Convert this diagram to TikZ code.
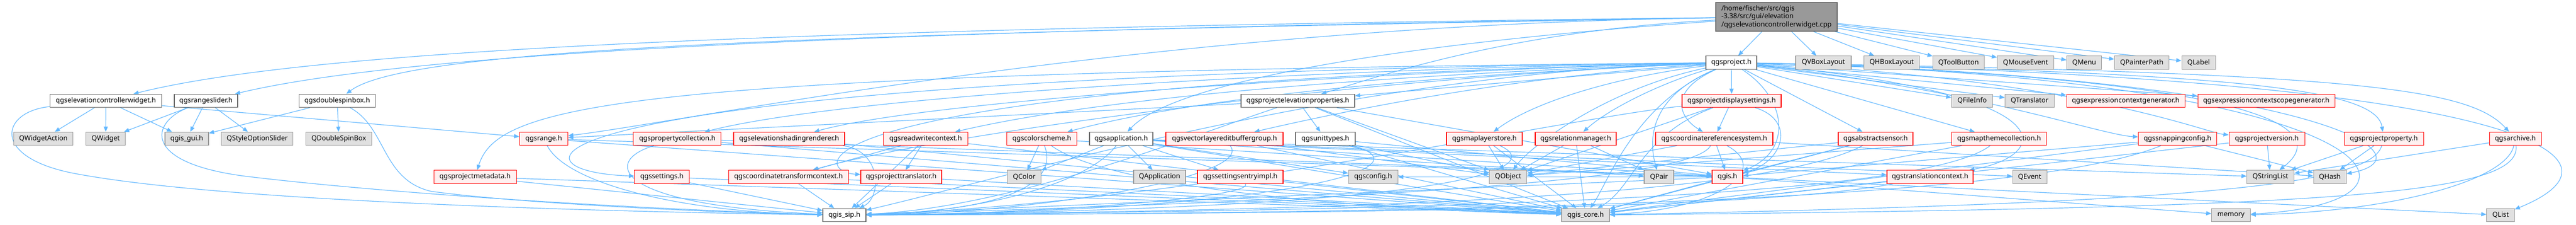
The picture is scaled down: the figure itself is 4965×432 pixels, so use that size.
\documentclass[tikz,border=0pt]{standalone}
\usepackage{fontspec}
\setmainfont{Noto Sans}
\usetikzlibrary{arrows.meta}
\definecolor{eline}{HTML}{63B8FF}
\definecolor{gfill}{HTML}{E0E0E0}
\definecolor{gline}{HTML}{999999}
\definecolor{rfill}{HTML}{FFF0F0}
\definecolor{rline}{HTML}{FF0000}
\definecolor{wline}{HTML}{666666}
\definecolor{tfill}{HTML}{999999}
\newcommand{\nodefont}{\fontsize{13.2}{15.5}\selectfont}
\pgfdeclarelayer{bg}
\pgfsetlayers{bg,main}
\tikzset{
  box/.style={draw, minimum height=25.5pt, inner xsep=4pt, inner ysep=0pt, font=\nodefont, line width=1.1pt},
  gbox/.style={box, fill=gfill, draw=gline},
  rbox/.style={box, fill=rfill, draw=rline},
  wbox/.style={box, fill=white, draw=wline},
  tbox/.style={box, fill=tfill, draw=wline, minimum height=55pt, align=left},
  e/.style={draw=eline, line width=1.2pt, -{Triangle[length=10pt,width=8pt]}}
}
\begin{document}
\begin{tikzpicture}[x=1pt,y=-1pt]
\useasboundingbox (0,0) rectangle (4965,432);
% row 0
\node[tbox, minimum width=234pt] (cpp) at (3424,32.5) {/home/fischer/src/qgis\\-3.38/src/gui/elevation\\/qgselevationcontrollerwidget.cpp};
% row 1
\node[wbox,minimum width=98pt] (proj) at (3337,120.5) {qgsproject.h};
\node[gbox,minimum width=107pt] (qvbox) at (3514.5,120.5) {QVBoxLayout};
\node[gbox,minimum width=107pt] (qhbox) at (3646,120.5) {QHBoxLayout};
\node[gbox,minimum width=99pt] (qtool) at (3775,120.5) {QToolButton};
\node[gbox,minimum width=109pt] (qmouse) at (3904,120.5) {QMouseEvent};
\node[gbox,minimum width=67pt] (qmenu) at (4017,120.5) {QMenu};
\node[gbox,minimum width=105pt] (qpath) at (4128,120.5) {QPainterPath};
\node[gbox,minimum width=65pt] (qlabel) at (4237.5,120.5) {QLabel};
% row 2
\node[wbox,minimum width=215pt] (elevw) at (204,194) {qgselevationcontrollerwidget.h};
\node[wbox,minimum width=122pt] (rslider) at (397,194) {qgsrangeslider.h};
\node[wbox,minimum width=147pt] (dspin) at (650,194) {qgsdoublespinbox.h};
\node[wbox,minimum width=219pt] (projelev) at (2501.5,194) {qgsprojectelevationproperties.h};
\node[rbox,minimum width=191pt] (projdisp) at (3337.5,194) {qgsprojectdisplaysettings.h};
\node[gbox,minimum width=79pt] (qfileinfo) at (3801,194) {QFileInfo};
\node[gbox,minimum width=95pt] (qtrans) at (3912,194) {QTranslator};
\node[rbox,minimum width=228pt] (exprgen) at (4097,194) {qgsexpressioncontextgenerator.h};
\node[rbox,minimum width=264pt] (scopegen) at (4368,194) {qgsexpressioncontextscopegenerator.h};
% row 3
\node[gbox,minimum width=114pt] (qwa) at (83.6,267) {QWidgetAction};
\node[gbox,minimum width=76pt] (qwidget) at (203.8,267) {QWidget};
\node[gbox,minimum width=84pt] (gisgui) at (360,267) {qgis\_gui.h};
\node[gbox,minimum width=138pt] (qsos) at (495.8,267) {QStyleOptionSlider};
\node[gbox,minimum width=127pt] (qdsb) at (653,267) {QDoubleSpinBox};
\node[rbox,minimum width=93pt] (range) at (1048,267) {qgsrange.h};
\node[rbox,minimum width=169pt] (propcoll) at (1305.4,267) {qgspropertycollection.h};
\node[rbox,minimum width=214pt] (elevshade) at (1521,267) {qgselevationshadingrenderer.h};
\node[rbox,minimum width=163pt] (rwctx) at (1784,267) {qgsreadwritecontext.h};
\node[rbox,minimum width=135pt] (colsch) at (2008,267) {qgscolorscheme.h};
\node[wbox,minimum width=122pt] (app) at (2161,267) {qgsapplication.h};
\node[rbox,minimum width=226pt] (vleb) at (2360,267) {qgsvectorlayereditbuffergroup.h};
\node[wbox,minimum width=115pt] (units) at (2554.5,267) {qgsunittypes.h};
\node[rbox,minimum width=146pt] (mls) at (2861,267) {qgsmaplayerstore.h};
\node[rbox,minimum width=156pt] (relmgr) at (3037,267) {qgsrelationmanager.h};
\node[rbox,minimum width=226pt] (crs) at (3304,267) {qgscoordinatereferencesystem.h};
\node[rbox,minimum width=144pt] (sensor) at (3615,267) {qgsabstractsensor.h};
\node[rbox,minimum width=183pt] (themes) at (3853,267) {qgsmapthemecollection.h};
\node[rbox,minimum width=151pt] (snap) at (4197,267) {qgssnappingconfig.h};
\node[rbox,minimum width=146pt] (pver) at (4369,267) {qgsprojectversion.h};
\node[rbox,minimum width=153pt] (pprop) at (4594.5,267) {qgsprojectproperty.h};
\node[rbox,minimum width=100pt] (archive) at (4848,267) {qgsarchive.h};
% row 4
\node[rbox,minimum width=159pt] (pmeta) at (915.6,340.5) {qgsprojectmetadata.h};
\node[rbox,minimum width=106pt] (settings) at (1275.8,340.5) {qgssettings.h};
\node[rbox,minimum width=231pt] (ctctx) at (1519.8,340.5) {qgscoordinatetransformcontext.h};
\node[rbox,minimum width=156pt] (ptrans) at (1737,340.5) {qgsprojecttranslator.h};
\node[gbox,minimum width=65pt] (qcolor) at (1974,340.5) {QColor};
\node[gbox,minimum width=100pt] (qapp) at (2235,340.5) {QApplication};
\node[rbox,minimum width=165pt] (sei) at (2390.5,340.5) {qgssettingsentryimpl.h};
\node[gbox,minimum width=95pt] (config) at (2646.6,340.5) {qgsconfig.h};
\node[gbox,minimum width=72pt] (qobject) at (2906.8,340.5) {QObject};
\node[gbox,minimum width=57pt] (qpair) at (3197.5,340.5) {QPair};
\node[rbox,minimum width=59pt] (qgis) at (3329.5,340.5) {qgis.h};
\node[rbox,minimum width=166pt] (tctx) at (3720,340.5) {qgstranslationcontext.h};
\node[gbox,minimum width=66pt] (qevent) at (3912,340.5) {QEvent};
\node[gbox,minimum width=90.5pt] (qsl) at (4376,340.5) {QStringList};
\node[gbox,minimum width=63pt] (qhash) at (4490.6,340.5) {QHash};
% row 5
\node[wbox,minimum width=83pt] (sip) at (1627.5,414) {qgis\_sip.h};
\node[gbox,minimum width=92pt] (core) at (3056,414) {qgis\_core.h};
\node[gbox,minimum width=74.5pt] (memory) at (4300,414) {memory};
\node[gbox,minimum width=53.5pt] (qlist) at (4819.6,414) {QList};

\begin{pgfonlayer}{bg}
% cpp
\draw[e] (cpp) .. controls (1500,55) and (600,95) .. (elevw);
\draw[e] (cpp) .. controls (1500,60) and (750,110) .. (rslider);
\draw[e] (cpp) .. controls (1500,65) and (780,95) .. (dspin);
\draw[e] (cpp) -- (proj);
\draw[e] (cpp) -- (qvbox);
\draw[e] (cpp) -- (qhbox);
\draw[e] (cpp) -- (qtool);
\draw[e] (cpp) -- (qmouse);
\draw[e] (cpp) -- (qmenu);
\draw[e] (cpp) -- (qpath);
\draw[e] (cpp) -- (qlabel);
\draw[e] (cpp) .. controls (2200,50) and (1350,230) .. (range);
\draw[e] (cpp) .. controls (2600,90) and (2250,170) .. (app);
\draw[e] (cpp) .. controls (2900,60) and (2650,150) .. (projelev);
% elevw
\draw[e] (elevw) -- (qwa);
\draw[e] (elevw) -- (qwidget);
\draw[e] (elevw) -- (gisgui);
\draw[e] (elevw) -- (range);
\draw[e] (elevw) .. controls (0,215) and (-20,305) .. (150,335) .. controls (450,390) and (1200,408) .. (sip);
% rslider
\draw[e] (rslider) -- (qwidget);
\draw[e] (rslider) -- (gisgui);
\draw[e] (rslider) -- (qsos);
\draw[e] (rslider) .. controls (290,235) and (270,315) .. (480,340) .. controls (800,378) and (1300,405) .. (sip);
% dspin
\draw[e] (dspin) -- (gisgui);
\draw[e] (dspin) -- (qdsb);
\draw[e] (dspin) .. controls (745,245) and (735,345) .. (830,368) .. controls (1000,392) and (1400,410) .. (sip);
% range
\draw[e] (range) .. controls (1090,350) and (1300,408) .. (sip);
\draw[e] (range) -- (qgis);
\draw[e] (range) -- (core);
% pmeta, propcoll, elevshade, settings, ctctx
\draw[e] (pmeta) -- (sip);
\draw[e] (pmeta) -- (core);
\draw[e] (propcoll) .. controls (1160,310) and (1180,395) .. (sip);
\draw[e] (propcoll) -- (core);
\draw[e] (propcoll) -- (qgis);
\draw[e] (elevshade) .. controls (1700,290) and (1700,380) .. (sip);
\draw[e] (elevshade) -- (core);
\draw[e] (settings) -- (sip);
\draw[e] (settings) -- (core);
\draw[e] (ctctx) -- (sip);
\draw[e] (ctctx) -- (core);
% rwctx, ptrans
\draw[e] (rwctx) -- (ptrans);
\draw[e] (rwctx) -- (ctctx);
\draw[e] (rwctx) -- (core);
\draw[e] (rwctx) -- (sip);
\draw[e] (ptrans) -- (sip);
\draw[e] (ptrans) -- (core);
% colsch
\draw[e] (colsch) -- (qcolor);
\draw[e] (colsch) .. controls (2040,350) and (1950,405) .. (sip);
\draw[e] (colsch) .. controls (2150,370) and (2700,405) .. (core);
\draw[e] (colsch) -- (qpair);
% app
\draw[e] (app) -- (qcolor);
\draw[e] (app) -- (qapp);
\draw[e] (app) -- (sei);
\draw[e] (app) .. controls (2100,350) and (1900,408) .. (sip);
\draw[e] (app) -- (core);
\draw[e] (app) -- (config);
\draw[e] (app) -- (qevent);
\draw[e] (app) -- (qsl);
\draw[e] (app) -- (tctx);
\draw[e] (app) -- (qgis);
% vleb, sei
\draw[e] (vleb) -- (qobject);
\draw[e] (vleb) -- (core);
\draw[e] (vleb) .. controls (2420,340) and (2000,410) .. (sip);
\draw[e] (sei) .. controls (2420,380) and (2000,412) .. (sip);
\draw[e] (sei) -- (core);
% projelev
\draw[e] (projelev) -- (units);
\draw[e] (projelev) -- (core);
\draw[e] (projelev) -- (range);
\draw[e] (projelev) -- (qobject);
\draw[e] (projelev) .. controls (2300,260) and (1950,400) .. (sip);
\draw[e] (projelev) -- (qgis);
% units
\draw[e] (units) -- (core);
\draw[e] (units) -- (qgis);
\draw[e] (units) -- (qobject);
\draw[e] (units) .. controls (2760,320) and (2500,405) .. (sip);
% mls, relmgr
\draw[e] (mls) -- (qobject);
\draw[e] (mls) -- (core);
\draw[e] (mls) .. controls (2980,320) and (2850,400) .. (sip);
\draw[e] (relmgr) -- (qobject);
\draw[e] (relmgr) -- (core);
\draw[e] (relmgr) -- (qpair);
% crs
\draw[e] (crs) -- (qgis);
\draw[e] (crs) .. controls (3420,330) and (3300,405) .. (core);
\draw[e] (crs) .. controls (3260,350) and (2600,385) .. (sip);
\draw[e] (crs) -- (qobject);
\draw[e] (crs) -- (qhash);
% projdisp
\draw[e] (projdisp) -- (crs);
\draw[e] (projdisp) .. controls (3460,230) and (3440,310) .. (qgis);
\draw[e] (projdisp) -- (qobject);
\draw[e] (projdisp) .. controls (3000,230) and (2300,390) .. (sip);
\draw[e] (projdisp) .. controls (3160,260) and (3150,360) .. (core);
% sensor, themes, tctx
\draw[e] (sensor) -- (qobject);
\draw[e] (sensor) -- (core);
\draw[e] (sensor) -- (qgis);
\draw[e] (sensor) .. controls (3400,380) and (2600,405) .. (sip);
\draw[e] (themes) -- (qobject);
\draw[e] (themes) -- (core);
\draw[e] (themes) .. controls (3700,385) and (2700,405) .. (sip);
\draw[e] (tctx) -- (core);
\draw[e] (tctx) .. controls (3400,400) and (2700,410) .. (sip);
% snap, pver, pprop, archive
\draw[e] (snap) -- (qhash);
\draw[e] (snap) -- (core);
\draw[e] (snap) .. controls (3900,390) and (2800,410) .. (sip);
\draw[e] (snap) -- (qgis);
\draw[e] (pver) -- (qsl);
\draw[e] (pver) -- (core);
\draw[e] (pprop) -- (qsl);
\draw[e] (pprop) -- (qhash);
\draw[e] (pprop) .. controls (4570,350) and (4300,390) .. (core);
\draw[e] (archive) -- (qsl);
\draw[e] (archive) .. controls (4830,350) and (4600,408) .. (memory);
\draw[e] (archive) .. controls (4860,375) and (4500,400) .. (core);
% qgis
\draw[e] (qgis) -- (config);
\draw[e] (qgis) -- (memory);
\draw[e] (qgis) -- (qlist);
\draw[e] (qgis) -- (core);
\draw[e] (qgis) -- (sip);
% proj
\draw[e] (proj) -- (projdisp);
\draw[e] (proj) .. controls (3215,175) and (3235,225) .. (crs);
\draw[e] (proj) .. controls (3445,190) and (3455,290) .. (qgis);
\draw[e] (proj) -- (sensor);
\draw[e] (proj) -- (themes);
\draw[e] (proj) -- (qfileinfo);
\draw[e] (proj) -- (qtrans);
\draw[e] (proj) -- (exprgen);
\draw[e] (proj) -- (scopegen);
\draw[e] (proj) .. controls (3800,170) and (4050,260) .. (snap);
\draw[e] (proj) .. controls (4000,150) and (4250,255) .. (pver);
\draw[e] (proj) .. controls (4300,140) and (4580,170) .. (pprop);
\draw[e] (proj) .. controls (4550,140) and (4760,170) .. (archive);
\draw[e] (proj) .. controls (4250,145) and (4520,230) .. (qsl);
\draw[e] (proj) .. controls (4450,145) and (4700,300) .. (qhash);
\draw[e] (proj) .. controls (4600,150) and (4750,390) .. (memory);
\draw[e] (proj) .. controls (4850,150) and (5100,300) .. (qlist);
\draw[e] (proj) .. controls (3100,170) and (2950,280) .. (qobject);
\draw[e] (proj) .. controls (3170,190) and (3180,280) .. (qpair);
\draw[e] (proj) .. controls (3150,200) and (3100,350) .. (core);
\draw[e] (proj) .. controls (2600,140) and (1950,340) .. (sip);
\draw[e] (proj) .. controls (3100,150) and (2950,200) .. (mls);
\draw[e] (proj) .. controls (3200,160) and (3100,210) .. (relmgr);
\draw[e] (proj) -- (projelev);
\draw[e] (proj) .. controls (2950,145) and (2650,200) .. (vleb);
\draw[e] (proj) .. controls (2900,138) and (2350,175) .. (colsch);
\draw[e] (proj) .. controls (2900,135) and (2200,170) .. (rwctx);
\draw[e] (proj) .. controls (950,145) and (950,330) .. (settings);
\draw[e] (proj) .. controls (1200,140) and (960,200) .. (pmeta);
\draw[e] (proj) .. controls (2600,130) and (1650,180) .. (propcoll);
\draw[e] (proj) .. controls (2700,135) and (1800,190) .. (elevshade);
\draw[e] (proj) .. controls (2600,150) and (1800,260) .. (ctctx);
\draw[e] (proj) .. controls (1500,160) and (1560,330) .. (ptrans);
\draw[e] (proj) .. controls (4000,180) and (3950,300) .. (tctx);
\end{pgfonlayer}
\end{tikzpicture}
\end{document}
